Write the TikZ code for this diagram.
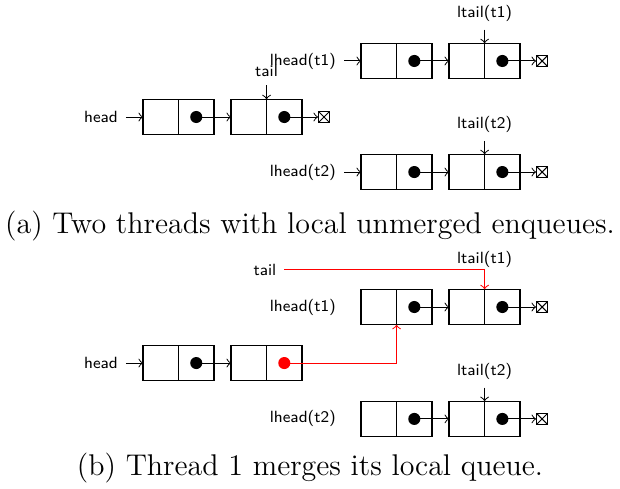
\documentclass[tikz,border=0pt]{standalone}
\usetikzlibrary{shapes,arrows,positioning}

\begin{document}
\begin{tikzpicture}[>=to,line width=0.5pt,
  cell/.style={draw,rectangle,minimum width=5mm,minimum height=5mm,inner sep=0pt,outer sep=0pt},
  dot/.style={circle,fill,inner sep=0pt,minimum size=1.7mm},
  nil/.style={draw,rectangle,minimum size=1.55mm,inner sep=0pt,line width=0.4pt,
    path picture={\draw (path picture bounding box.south west) -- (path picture bounding box.north east)
                        (path picture bounding box.north west) -- (path picture bounding box.south east);}},
  lbl/.style={font=\sffamily\fontsize{6.5}{8}\selectfont,inner sep=3pt},
  ptr/.style={->,line width=0.4pt},
  subcap/.style={font=\large}]
\useasboundingbox (0,0) rectangle (8.732,-6.887);

% (a) two threads, nothing merged yet
\node[cell] (ha1d) at (2.264,-1.648) {};
\node[cell,right=0pt of ha1d] (ha1p) {};
\node[cell,right=0.24cm of ha1p] (ha2d) {};
\node[cell,right=0pt of ha2d] (ha2p) {};
\node[nil,right=0.225cm of ha2p] (hanil) {};
\node[dot] at (ha1p) {};
\node[dot] at (ha2p) {};

\node[cell] (ta1d) at (5.335,-0.859) {};
\node[cell,right=0pt of ta1d] (ta1p) {};
\node[cell,right=0.24cm of ta1p] (ta2d) {};
\node[cell,right=0pt of ta2d] (ta2p) {};
\node[nil,right=0.225cm of ta2p] (tanil) {};
\node[dot] at (ta1p) {};
\node[dot] at (ta2p) {};

\node[cell] (ua1d) at (5.335,-2.423) {};
\node[cell,right=0pt of ua1d] (ua1p) {};
\node[cell,right=0.24cm of ua1p] (ua2d) {};
\node[cell,right=0pt of ua2d] (ua2p) {};
\node[nil,right=0.225cm of ua2p] (uanil) {};
\node[dot] at (ua1p) {};
\node[dot] at (ua2p) {};

\node[lbl,left=0.24cm of ha1d] (heada) {head};
\node[lbl,above=0.2cm of ha2d.north east] (taila) {tail};
\node[lbl,left=0.24cm of ta1d] (lheadaa) {lhead(t1)};
\node[lbl,above=0.19cm of ta2d.north east] (ltailaa) {ltail(t1)};
\node[lbl,left=0.24cm of ua1d] (lheadab) {lhead(t2)};
\node[lbl,above=0.19cm of ua2d.north east] (ltailab) {ltail(t2)};

\draw[ptr] (heada) -- (ha1d);
\draw[ptr] (ha1p.center) -- (ha2d);
\draw[ptr] (ha2p.center) -- (hanil);
\draw[ptr] (taila) -- (ha2d.north east);
\draw[ptr] (lheadaa) -- (ta1d);
\draw[ptr] (ta1p.center) -- (ta2d);
\draw[ptr] (ta2p.center) -- (tanil);
\draw[ptr] (ltailaa) -- (ta2d.north east);
\draw[ptr] (lheadab) -- (ua1d);
\draw[ptr] (ua1p.center) -- (ua2d);
\draw[ptr] (ua2p.center) -- (uanil);
\draw[ptr] (ltailab) -- (ua2d.north east);

\node[subcap] (capa) at (4.366,-3.183) {(a) Two threads with local unmerged enqueues.};

% (b) thread 1 links its queue in
\node[cell] (tb1d) at (5.335,-4.324) {};
\node[cell,right=0pt of tb1d] (tb1p) {};
\node[cell,right=0.24cm of tb1p] (tb2d) {};
\node[cell,right=0pt of tb2d] (tb2p) {};
\node[nil,right=0.225cm of tb2p] (tbnil) {};
\node[dot] at (tb1p) {};
\node[dot] at (tb2p) {};

\node[cell] (hb1d) at (2.264,-5.113) {};
\node[cell,right=0pt of hb1d] (hb1p) {};
\node[cell,right=0.24cm of hb1p] (hb2d) {};
\node[cell,right=0pt of hb2d] (hb2p) {};
\node[dot] at (hb1p) {};
\node[dot,red] at (hb2p) {};

\node[cell] (ub1d) at (5.335,-5.90) {};
\node[cell,right=0pt of ub1d] (ub1p) {};
\node[cell,right=0.24cm of ub1p] (ub2d) {};
\node[cell,right=0pt of ub2d] (ub2p) {};
\node[nil,right=0.225cm of ub2p] (ubnil) {};
\node[dot] at (ub1p) {};
\node[dot] at (ub2p) {};

\node[lbl,left=0.24cm of hb1d] (headb) {head};
\node[lbl] (tailb) at (3.732,-3.80) {tail};
\node[lbl,left=0.24cm of tb1d] (lheadba) {lhead(t1)};
\node[lbl,above=0.19cm of tb2d.north east] (ltailba) {ltail(t1)};
\node[lbl,left=0.24cm of ub1d] (lheadbb) {lhead(t2)};
\node[lbl,above=0.19cm of ub2d.north east] (ltailbb) {ltail(t2)};

\draw[ptr] (headb) -- (hb1d);
\draw[ptr] (hb1p.center) -- (hb2d);
\draw[ptr,red] (hb2p.center) -| (tb1d.south east);
\draw[ptr,red] (tailb) -| (tb2d.north east);
\draw[ptr] (tb1p.center) -- (tb2d);
\draw[ptr] (tb2p.center) -- (tbnil);
\draw[ptr] (ub1p.center) -- (ub2d);
\draw[ptr] (ub2p.center) -- (ubnil);
\draw[ptr] (ltailbb) -- (ub2d.north east);

\node[subcap] (capb) at (4.366,-6.59) {(b) Thread 1 merges its local queue.};

\end{tikzpicture}
\end{document}
